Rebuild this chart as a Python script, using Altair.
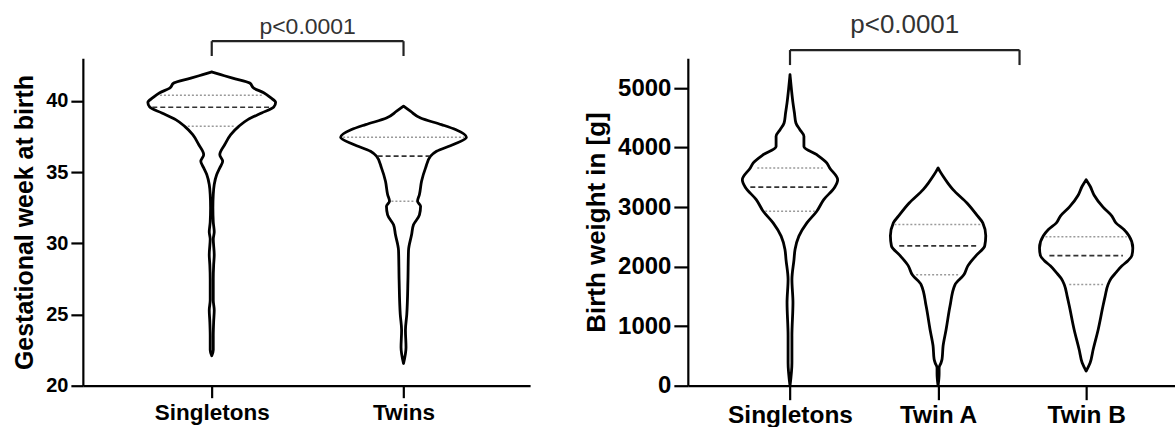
import altair as alt
import pandas as pd

# ---------------- Left panel: gestational week at birth ----------------
gw_categories = ["Singletons", "Twins"]
gw_title = "Gestational week at birth"
gw_ticks = [20, 25, 30, 35, 40]

# violin outline: value and half-width (in category-step units)
gw_single_week = [22.1, 22.5, 23.5, 24.5, 25.3, 26.0, 27.5, 28.5, 29.2, 30.3, 30.8, 31.5, 32.5,
                  33.43, 34.13, 34.83, 35.3, 35.77, 36.23, 36.94, 37.64, 38.22, 38.69, 39.16,
                  39.56, 39.9, 40.23, 40.58, 40.9, 41.26, 41.6, 41.85, 42.04]
gw_single_dens = [0.0, 0.008, 0.008, 0.010, 0.013, 0.008, 0.008, 0.010, 0.013, 0.008, 0.013, 0.008, 0.006,
                  0.008, 0.013, 0.026, 0.042, 0.057, 0.042, 0.068, 0.099, 0.141, 0.188, 0.260,
                  0.323, 0.333, 0.307, 0.271, 0.219, 0.198, 0.109, 0.047, 0.0]
gw_twins_week = [21.56, 22.7, 23.9, 25.0, 27.4, 29.5, 30.6, 31.3, 32.0, 32.6, 32.96, 33.43, 34.36,
                 35.3, 36.12, 36.47, 36.94, 37.45, 37.99, 38.34, 38.8, 39.28, 39.63]
gw_twins_dens = [0.0, 0.013, 0.010, 0.017, 0.023, 0.026, 0.042, 0.052, 0.083, 0.089, 0.073, 0.083, 0.094,
                 0.115, 0.141, 0.172, 0.260, 0.328, 0.271, 0.198, 0.089, 0.036, 0.0]
# quartiles: Q1, median, Q3 (value, half-width)
gw_single_quart = [38.22, 39.56, 40.4]
gw_single_quart_dens = [0.125, 0.31, 0.27]
gw_twins_quart = [32.96, 36.12, 37.45]
gw_twins_quart_dens = [0.063, 0.135, 0.315]
gw_bracket_x = [0, 1]
gw_bracket_y = [44.2, 43.16]
gw_p_y = 45.23
gw_p_text = "p<0.0001"

# ---------------- Right panel: birth weight ----------------
bw_categories = ["Singletons", "Twin A", "Twin B"]
bw_title = "Birth weight in [g]"
bw_ticks = [0, 1000, 2000, 3000, 4000, 5000]

bw_single_g = [0, 386, 839, 1393, 1783, 2119, 2287, 2512, 2735, 2931, 3126, 3334, 3461, 3658,
               3742, 3880, 4020, 4190, 4300, 4413, 4580, 4750, 4970, 5223]
bw_single_dens = [0.0, 0.013, 0.013, 0.020, 0.013, 0.027, 0.034, 0.060, 0.114, 0.181, 0.228, 0.302, 0.322, 0.268,
                  0.248, 0.181, 0.094, 0.094, 0.067, 0.040, 0.030, 0.020, 0.010, 0.0]
bw_twina_g = [0, 200, 300, 386, 450, 671, 940, 1342, 1695, 1862, 2013, 2181, 2349, 2517, 2735,
              2847, 3070, 3294, 3400, 3518, 3600, 3658]
bw_twina_dens = [0.0, 0.007, 0.007, 0.020, 0.027, 0.034, 0.054, 0.081, 0.114, 0.174, 0.201, 0.255, 0.315, 0.322, 0.302,
                 0.268, 0.195, 0.101, 0.067, 0.034, 0.013, 0.0]
bw_twinb_g = [246, 386, 604, 940, 1342, 1500, 1700, 1800, 1900, 2013, 2100, 2187, 2315, 2517,
              2623, 2735, 2850, 3000, 3200, 3350, 3461]
bw_twinb_dens = [0.0, 0.027, 0.047, 0.081, 0.114, 0.128, 0.148, 0.168, 0.201, 0.242, 0.282, 0.309, 0.315, 0.289,
                 0.255, 0.201, 0.174, 0.114, 0.054, 0.027, 0.0]
bw_single_quart = [2931, 3334, 3658]
bw_single_quart_dens = [0.168, 0.268, 0.221]
bw_twina_quart = [1862, 2349, 2707]
bw_twina_quart_dens = [0.148, 0.262, 0.295]
bw_twinb_quart = [1700, 2186, 2500]
bw_twinb_quart_dens = [0.114, 0.248, 0.275]
bw_bracket_x = [0, 1.55]
bw_bracket_y = [5638, 5386]
bw_p_y = 6057
bw_p_text = "p<0.0001"

FONT = "Liberation Sans"


def violin_frame(violins):
    rows = []
    for gi, (vals, dens) in enumerate(violins):
        for v, d in zip(vals, dens):
            rows.append({"g": gi, "v": v, "lo": gi - d, "hi": gi + d})
    return pd.DataFrame(rows).sort_values(["g", "v"])


def quart_frame(quarts):
    rows = []
    for gi, (vals, dens) in enumerate(quarts):
        for k, (v, d) in enumerate(zip(vals, dens)):
            rows.append({"g": gi, "kind": "median" if k == 1 else "quart",
                         "v": v, "lo": gi - d, "hi": gi + d})
    return pd.DataFrame(rows)


def panel(cats, violins, quarts, bx, by, p_y, p_text, xdom, ydom, yticks, ytitle,
          width, height, ylab_fs, xlab_fs, title_fs, p_fs, tick_size, title_pad):
    xs = alt.Scale(domain=xdom, nice=False, zero=False)
    ys = alt.Scale(domain=ydom, nice=False, zero=False)
    label_expr = "[" + ",".join("'%s'" % c for c in cats) + "][datum.value]"
    xaxis = alt.Axis(values=list(range(len(cats))), labelExpr=label_expr, title=None, grid=False,
                     domainColor="black", domainWidth=2.2, tickColor="black", tickWidth=2.2,
                     tickSize=tick_size, labelFont=FONT, labelFontWeight="bold",
                     labelFontSize=xlab_fs, labelColor="#000", labelPadding=4, labelFlush=False)
    yaxis = alt.Axis(values=yticks, format="d", title=ytitle, grid=False, domainColor="black",
                     domainWidth=2.2, tickColor="black", tickWidth=2.2, tickSize=tick_size,
                     labelFont=FONT, labelFontWeight="bold", labelFontSize=ylab_fs,
                     labelColor="#000", labelPadding=3, titleFont=FONT, titleFontWeight="bold",
                     titleFontSize=title_fs, titleColor="#000", titlePadding=title_pad,
                     labelFlush=False)
    vdf = violin_frame(violins)
    qdf = quart_frame(quarts)

    def X(f):
        return alt.X(f, scale=xs, axis=xaxis)

    def Y(f):
        return alt.Y(f, scale=ys, axis=yaxis)

    area = alt.Chart(vdf).mark_area(
        orient="horizontal", interpolate="monotone", fill="white", stroke="black",
        strokeWidth=2.8, strokeJoin="round"
    ).encode(y=Y("v:Q"), x=X("lo:Q"), x2="hi:Q", detail="g:N")
    med = alt.Chart(qdf[qdf.kind == "median"]).mark_rule(
        color="#333", strokeWidth=1.7, strokeDash=[5, 3]
    ).encode(y=Y("v:Q"), x=X("lo:Q"), x2="hi:Q")
    qrt = alt.Chart(qdf[qdf.kind == "quart"]).mark_rule(
        color="#9a9a9a", strokeWidth=1.5, strokeDash=[2, 2]
    ).encode(y=Y("v:Q"), x=X("lo:Q"), x2="hi:Q")

    seg = pd.DataFrame([
        {"x": bx[0], "x2": bx[1], "y": by[0], "y2": by[0]},
        {"x": bx[0], "x2": bx[0], "y": by[0], "y2": by[1]},
        {"x": bx[1], "x2": bx[1], "y": by[0], "y2": by[1]},
    ])
    bracket = alt.Chart(seg).mark_rule(color="#222", strokeWidth=2.2).encode(
        x=X("x:Q"), x2="x2:Q", y=Y("y:Q"), y2="y2:Q")
    tdf = pd.DataFrame([{"x": (bx[0] + bx[1]) / 2, "y": p_y, "t": p_text}])
    ptext = alt.Chart(tdf).mark_text(font=FONT, fontSize=p_fs, color="#333", baseline="middle",
                                     align="center").encode(
        x=X("x:Q"), y=Y("y:Q"), text="t:N")
    return alt.layer(area, qrt, med, bracket, ptext).properties(width=width, height=height)


left = panel(gw_categories,
             [(gw_single_week, gw_single_dens), (gw_twins_week, gw_twins_dens)],
             [(gw_single_quart, gw_single_quart_dens), (gw_twins_quart, gw_twins_quart_dens)],
             gw_bracket_x, gw_bracket_y, gw_p_y, gw_p_text,
             [-0.672, 1.66], [20, 43], gw_ticks, gw_title,
             448, 328, 20, 22.5, 25, 23, 12, 8)

right = panel(bw_categories,
              [(bw_single_g, bw_single_dens), (bw_twina_g, bw_twina_dens), (bw_twinb_g, bw_twinb_dens)],
              [(bw_single_quart, bw_single_quart_dens), (bw_twina_quart, bw_twina_quart_dens),
               (bw_twinb_quart, bw_twinb_quart_dens)],
              bw_bracket_x, bw_bracket_y, bw_p_y, bw_p_text,
              [-0.69, 2.6], [0, 5500], bw_ticks, bw_title,
              488, 328, 24, 24.5, 26, 26, 14, 8)

chart = alt.hconcat(left, right, spacing=53).properties(
    padding={"left": 12, "top": 11, "right": 0, "bottom": 0},
    background="white",
).configure_view(stroke=None)

chart.save("out.html", embed_options={"renderer": "svg", "actions": False})
